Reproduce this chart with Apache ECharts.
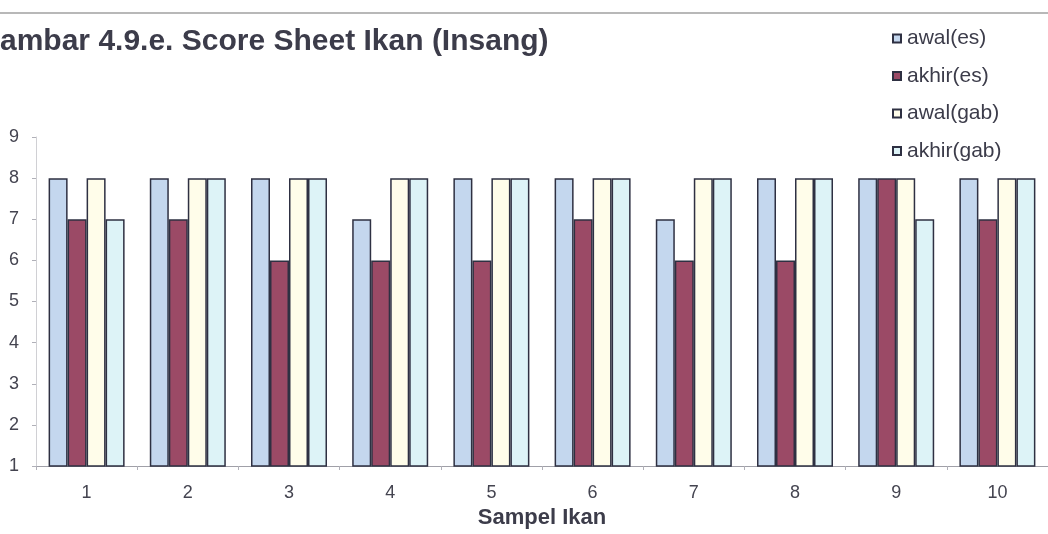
<!DOCTYPE html>
<html>
<head>
<meta charset="utf-8">
<script src="https://cdn.jsdelivr.net/npm/echarts@6/dist/echarts.min.js"></script>
<style>
  html, body { margin: 0; padding: 0; background: #fff; }
  #chart { width: 1048px; height: 534px; }
</style>
</head>
<body>
<div id="chart"></div>
<script>
// Fish gill score sheet: sample number vs. score for ice (es) and combined (gab) storage
const categories = ['1', '2', '3', '4', '5', '6', '7', '8', '9', '10'];
const awalEs   = [8, 8, 8, 7, 8, 8, 7, 8, 8, 8];
const akhirEs  = [7, 7, 6, 6, 6, 7, 6, 6, 8, 7];
const awalGab  = [8, 8, 8, 8, 8, 8, 8, 8, 8, 8];
const akhirGab = [7, 8, 8, 8, 8, 8, 8, 8, 7, 8];
const seriesNames = ['awal(es)', 'akhir(es)', 'awal(gab)', 'akhir(gab)'];
const seriesColors = ['#c4d7ee', '#9b4a66', '#fffdea', '#ddf3f7'];
const yTicks = { min: 1, max: 9, interval: 1 };

const chart = echarts.init(document.getElementById('chart'), null, { renderer: 'canvas' });

const values = [awalEs, akhirEs, awalGab, akhirGab];
const series = values.map((data, i) => ({
  name: seriesNames[i],
  type: 'bar',
  data: data,
  barWidth: 19,
  barGap: '0%',
  clip: true,
  itemStyle: {
    color: seriesColors[i],
    borderColor: '#2e3042',
    borderWidth: 1.5
  },
  emphasis: { disabled: true }
}));

chart.setOption({
  animation: false,
  backgroundColor: '#ffffff',
  textStyle: { fontFamily: 'Liberation Sans, Arial, sans-serif' },
  graphic: [{
    type: 'line',
    shape: { x1: 0, y1: 13, x2: 1048, y2: 13 },
    style: { stroke: '#b8b8b8', lineWidth: 2 }
  }],
  title: {
    text: 'ambar 4.9.e. Score Sheet Ikan (Insang)',
    left: 0,
    top: 27,
    padding: 0,
    textStyle: {
      fontSize: 30,
      fontWeight: 'bold',
      color: '#3c3c4a',
      fontFamily: 'Liberation Sans, Arial, sans-serif'
    }
  },
  legend: {
    orient: 'vertical',
    left: 892,
    top: 28,
    padding: 0,
    itemWidth: 8,
    itemHeight: 8,
    itemGap: 16.5,
    icon: 'rect',
    selectedMode: false,
    textStyle: {
      fontSize: 21,
      lineHeight: 21,
      color: '#3c3c4a',
      padding: [0, 0, 0, 1]
    },
    data: seriesNames
  },
  grid: {
    left: 36,
    top: 137,
    width: 1024,
    height: 329,
    containLabel: false
  },
  xAxis: {
    type: 'category',
    data: categories,
    boundaryGap: true,
    name: 'Sampel Ikan',
    nameLocation: 'middle',
    nameGap: 36,
    nameTextStyle: {
      fontSize: 22,
      fontWeight: 'bold',
      color: '#3c3c4a'
    },
    axisLine: { show: true, lineStyle: { color: '#a0a0a8', width: 1 } },
    axisTick: { show: true, length: 4, lineStyle: { color: '#b0b0b8' } },
    axisLabel: { fontSize: 18, color: '#444450', margin: 18 }
  },
  yAxis: {
    type: 'value',
    min: yTicks.min,
    max: yTicks.max,
    interval: yTicks.interval,
    axisLine: { show: true, lineStyle: { color: '#d0d0d4', width: 1 } },
    axisTick: { show: true, length: 4, lineStyle: { color: '#b0b0b8' } },
    splitLine: { show: false },
    axisLabel: { fontSize: 18, color: '#444450', margin: 17 }
  },
  series: series
});
</script>
</body>
</html>
